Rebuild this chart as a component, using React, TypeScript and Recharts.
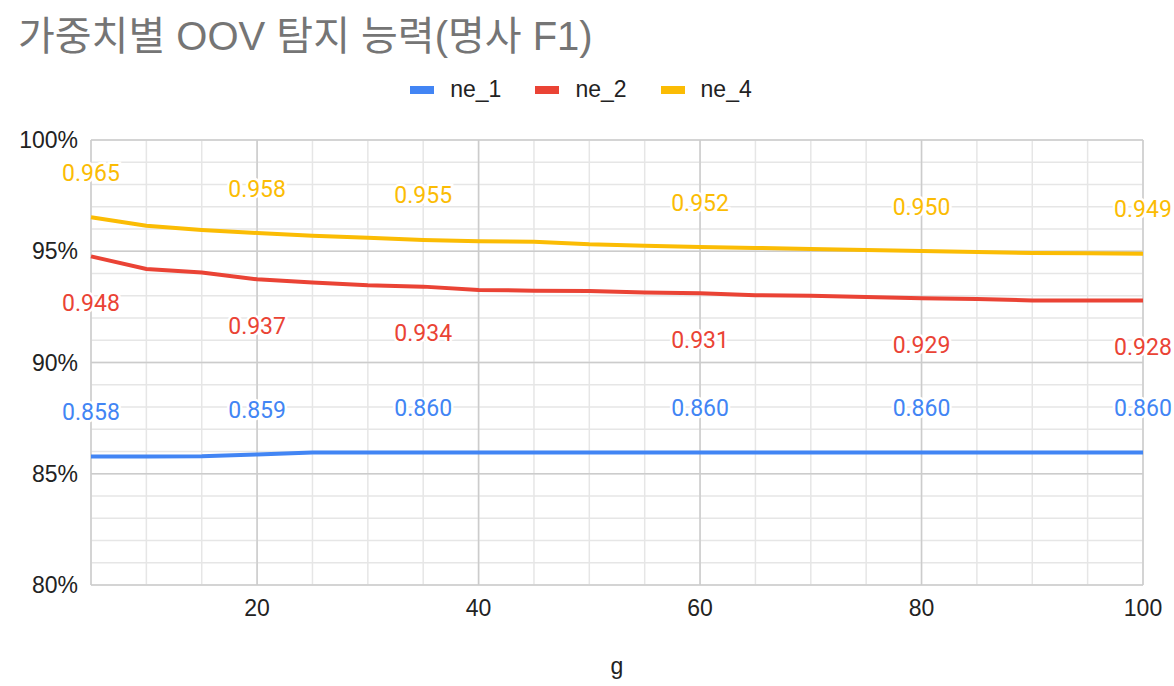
import React from 'react'
import {
  LineChart, Line, CartesianGrid, XAxis, YAxis, LabelList,
} from 'recharts'

// g (weight) on the x axis
const g = [5, 10, 15, 20, 25, 30, 35, 40, 45, 50, 55, 60, 65, 70, 75, 80, 85, 90, 95, 100]

const ne1 = [0.8577, 0.8578, 0.8579, 0.8587, 0.8596, 0.8596, 0.8596, 0.8596, 0.8596, 0.8596,
  0.8596, 0.8596, 0.8596, 0.8596, 0.8596, 0.8596, 0.8596, 0.8596, 0.8596, 0.8596]
const ne2 = [0.9477, 0.9420, 0.9404, 0.9374, 0.9360, 0.9347, 0.9341, 0.9326, 0.9323, 0.9321,
  0.9315, 0.9311, 0.9302, 0.9300, 0.9294, 0.9289, 0.9285, 0.9279, 0.9279, 0.9279]
const ne4 = [0.9653, 0.9615, 0.9596, 0.9582, 0.9570, 0.9561, 0.9551, 0.9545, 0.9543, 0.9531,
  0.9525, 0.9519, 0.9515, 0.9510, 0.9506, 0.9501, 0.9497, 0.9492, 0.9491, 0.9489]

// points that carry a data label
const labelAt = [5, 20, 35, 60, 80, 100]

const xMajor = [20, 40, 60, 80, 100]
const xMinor = [5, 10, 15, 20, 25, 30, 35, 40, 45, 50, 55, 60, 65, 70, 75, 80, 85, 90, 95, 100]
const yMajor = [0.8, 0.85, 0.9, 0.95, 1.0]
const yMinor = [0.8, 0.81, 0.82, 0.83, 0.84, 0.85, 0.86, 0.87, 0.88, 0.89, 0.9,
  0.91, 0.92, 0.93, 0.94, 0.95, 0.96, 0.97, 0.98, 0.99, 1.0]

const series = [
  { key: 'ne_1', color: '#4285F4', dy: -44 },
  { key: 'ne_2', color: '#EA4335', dy: 47 },
  { key: 'ne_4', color: '#FBBC04', dy: -44 },
]

const data = g.map((v, i) => ({ g: v, ne_1: ne1[i], ne_2: ne2[i], ne_4: ne4[i] }))

const TICK_FONT = '"Liberation Sans", Arial, sans-serif'

const makeLabel = (color: string, dy: number) => (props: any) => {
  const { x, y, value, index } = props
  if (!labelAt.includes(g[index])) return null
  return (
    <text
      x={x}
      y={y + dy}
      fill={color}
      stroke="#fff"
      strokeWidth={5}
      paintOrder="stroke"
      textAnchor="middle"
      dominantBaseline="central"
      fontSize={23}
      fontFamily="Roboto, sans-serif"
    >
      {Number(value).toFixed(3)}
    </text>
  )
}

const LegendBox = () => (
  <div
    style={{
      position: 'absolute', top: 76, left: 0, width: 1174, display: 'flex', justifyContent: 'center',
      fontFamily: TICK_FONT, fontSize: 23, color: '#222', paddingLeft: 22, boxSizing: 'border-box',
    }}
  >
    {series.map((s) => (
      <div key={s.key} style={{ display: 'flex', alignItems: 'center', marginRight: 34 }}>
        <span style={{ width: 24, height: 8, background: s.color, display: 'inline-block', marginRight: 16 }} />
        <span>{s.key}</span>
      </div>
    ))}
  </div>
)

const App = () => {
  return (
    <div style={{ position: 'relative', width: 1174, height: 686, background: '#fff' }}>
      <style>{'body{margin:0}'}</style>
      <div
        style={{
          position: 'absolute', left: 18, top: 4, fontSize: 40, color: '#757575',
          fontFamily: '"Liberation Sans", Arial, "Noto Sans CJK KR", sans-serif', whiteSpace: 'nowrap',
        }}
      >
        가중치별 OOV 탐지 능력(명사 F1)
      </div>
      <LegendBox />
      <LineChart width={1174} height={686} data={data} margin={{ top: 140, right: 31, bottom: 0, left: 0 }}>
        <XAxis xAxisId="minor" dataKey="g" type="number" domain={[5, 100]} ticks={xMinor} interval={0} hide />
        <YAxis
          yAxisId="minor"
          dataKey="ne_2"
          type="number"
          domain={[0.8, 1]}
          allowDataOverflow
          ticks={yMinor}
          interval={0}
          hide
        />
        <CartesianGrid xAxisId="minor" yAxisId="minor" stroke="#e6e6e6" strokeWidth={1.5} />
        <CartesianGrid stroke="#cccccc" strokeWidth={1.5} />
        <XAxis
          dataKey="g"
          type="number"
          domain={[5, 100]}
          ticks={xMajor}
          height={101}
          axisLine={false}
          tickLine={false}
          tickSize={0}
          tickMargin={15}
          tick={{ fill: '#222', fontSize: 23, fontFamily: TICK_FONT }}
          label={{ value: 'g', position: 'insideBottom', offset: 12, fill: '#222', fontSize: 23, fontFamily: TICK_FONT }}
        />
        <YAxis
          type="number"
          domain={[0.8, 1]}
          ticks={yMajor}
          width={91}
          axisLine={false}
          tickLine={false}
          tickSize={0}
          tickMargin={13}
          tickFormatter={(v: number) => `${Math.round(v * 100)}%`}
          tick={{ fill: '#222', fontSize: 23, fontFamily: TICK_FONT }}
        />
        {series.map((s) => (
          <Line
            key={s.key}
            type="linear"
            dataKey={s.key}
            stroke={s.color}
            strokeWidth={4}
            dot={false}
            activeDot={false}
            isAnimationActive={false}
          >
            <LabelList dataKey={s.key} content={makeLabel(s.color, s.dy)} />
          </Line>
        ))}
      </LineChart>
    </div>
  )
}

export default App
